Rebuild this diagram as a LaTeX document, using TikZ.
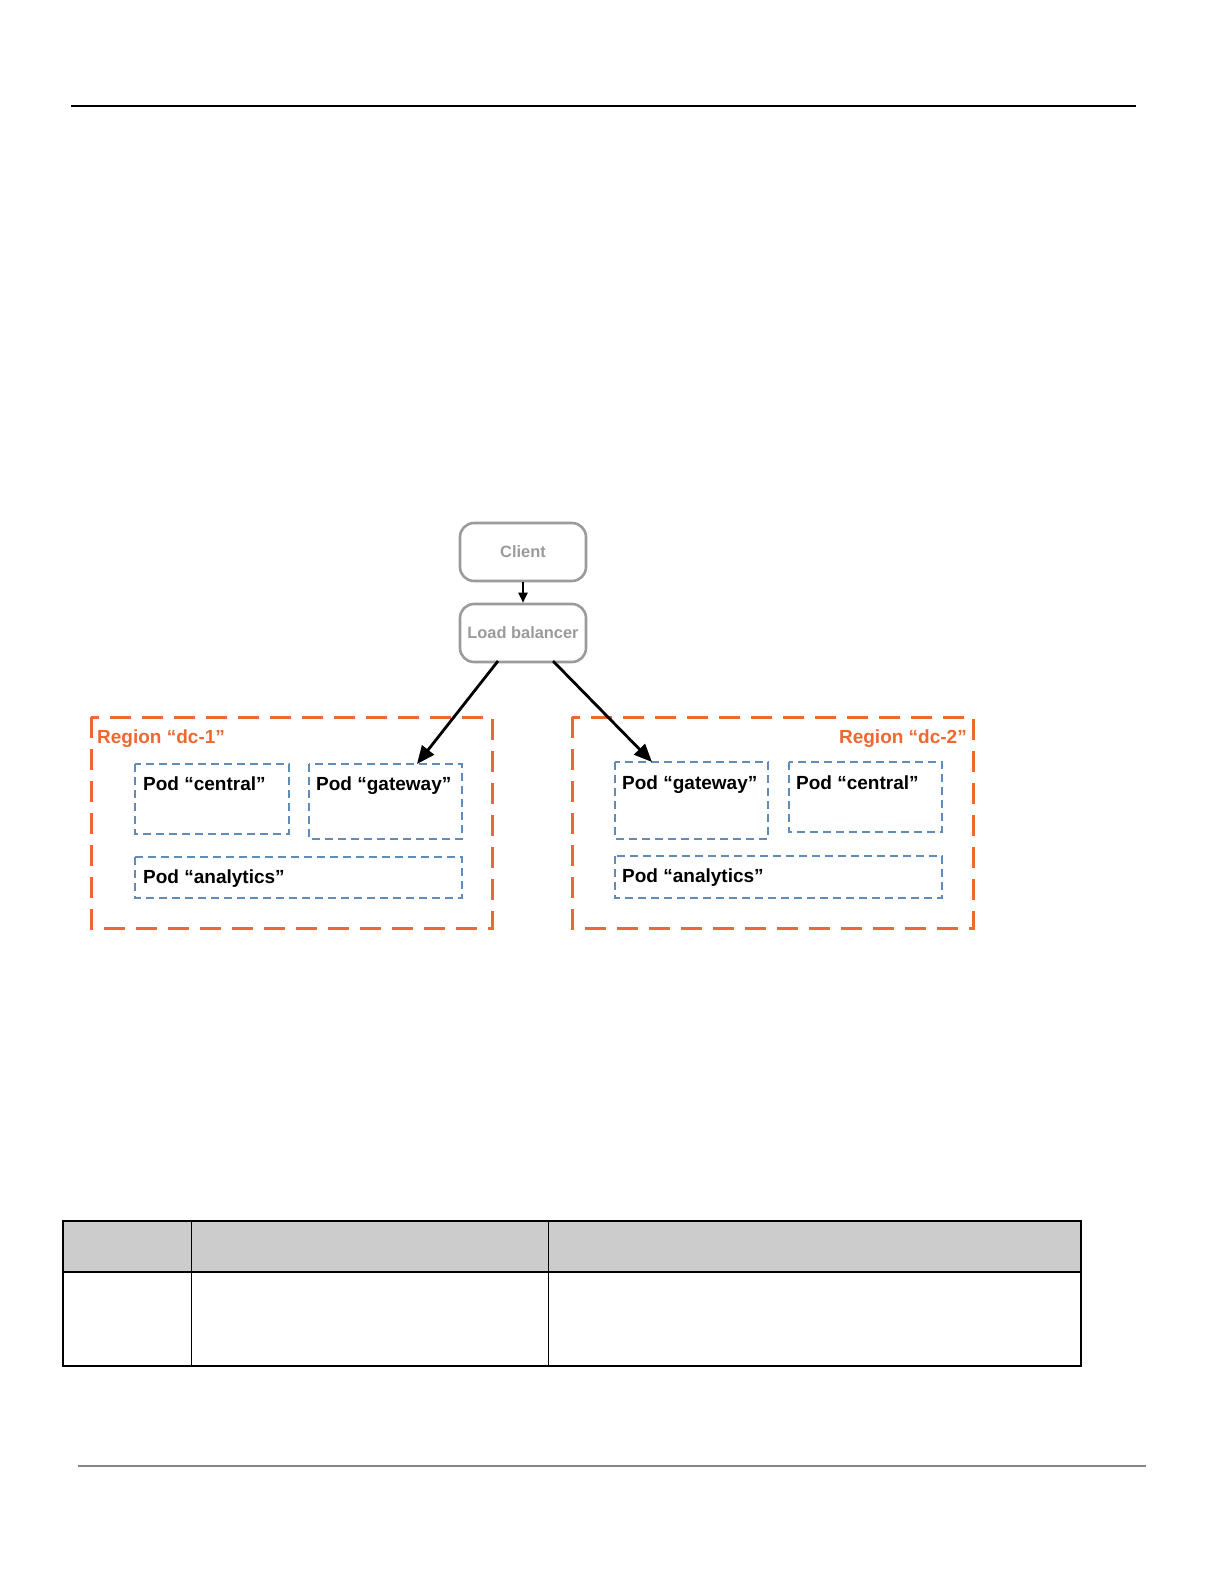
\documentclass[tikz,border=0pt]{standalone}
\usepackage{fontspec}
\setmainfont{Liberation Sans}
\usetikzlibrary{arrows.meta}
\definecolor{orng}{RGB}{238,104,48}
\definecolor{podblue}{RGB}{95,140,185}
\definecolor{boxgray}{RGB}{155,155,155}
\definecolor{hdrgray}{RGB}{204,204,204}
\begin{document}
\begin{tikzpicture}[x=1bp,y=-1bp,
  svc/.style={draw=boxgray,line width=2.6bp,rounded corners=14bp,minimum width=126bp,minimum height=58bp,inner sep=0pt,
    font=\fontsize{16.4bp}{18bp}\selectfont\bfseries,text=boxgray},
  region/.style={draw=orng,line width=3bp,dash pattern=on 21bp off 11bp},
  pod/.style={draw=podblue,line width=1.2bp,dash pattern=on 8bp off 5bp},
  regionlbl/.style={font=\fontsize{19bp}{22bp}\selectfont\bfseries,text=orng,inner sep=0pt},
  podlbl/.style={font=\fontsize{19bp}{22bp}\selectfont\bfseries,inner sep=0pt,anchor=base west},
  bigarrow/.style={line width=2.8bp,-{Triangle[length=18bp,width=15bp]}},
  smallarrow/.style={line width=1.8bp,-{Triangle[length=10bp,width=9bp]}}
]
\useasboundingbox (0,0) rectangle (1224,1584);
\fill[white] (0,0) rectangle (1224,1584);

% header and footer rules
\draw[line width=2.2bp] (71,106) -- (1136,106);
\draw[line width=2.2bp,draw=gray!95] (78,1466) -- (1146,1466);

% client and load balancer
\node[svc] (client) at (523,552) {Client};
\node[svc] (lb) at (523,633) {Load balancer};
\draw[smallarrow] (client.south) -- (lb.north);

% region dc-1
\draw[region] (91,717) rectangle (492,928);
\node[regionlbl,anchor=base west] (r1lbl) at (97,743) {Region “dc-1”};
\draw[pod] (135,764) rectangle (289,834);
\node[podlbl] (c1lbl) at (143,790.5) {Pod “central”};
\draw[pod] (309,764) rectangle (462,839);
\coordinate (g1) at (417,764);
\node[podlbl] (g1lbl) at (316,790.5) {Pod “gateway”};
\draw[pod] (135,857) rectangle (462,898);
\node[podlbl] (a1lbl) at (143,883) {Pod “analytics”};

% region dc-2
\draw[region] (572,717) rectangle (973,928);
\node[regionlbl,anchor=base east] (r2lbl) at (967,743) {Region “dc-2”};
\draw[pod] (615,762) rectangle (768,839);
\coordinate (g2) at (652,762);
\node[podlbl] (g2lbl) at (622,789.5) {Pod “gateway”};
\draw[pod] (789,762) rectangle (942,832);
\node[podlbl] (c2lbl) at (796,789.5) {Pod “central”};
\draw[pod] (615,856) rectangle (942,898);
\node[podlbl] (a2lbl) at (622,882) {Pod “analytics”};

% arrows from load balancer
\coordinate (lbl) at (498,661);
\coordinate (lbr) at (553,661);
\draw[bigarrow] (lbl) -- (g1);
\draw[bigarrow] (lbr) -- (g2);

% table
\fill[hdrgray] (63,1221) rectangle (1081,1272);
\draw[line width=0.9bp] (191,1221) -- (191,1366);
\draw[line width=0.9bp] (548,1221) -- (548,1366);
\draw[line width=2.6bp] (63,1272) -- (1081,1272);
\draw[line width=1.6bp] (63,1221) rectangle (1081,1366);
\end{tikzpicture}
\end{document}
